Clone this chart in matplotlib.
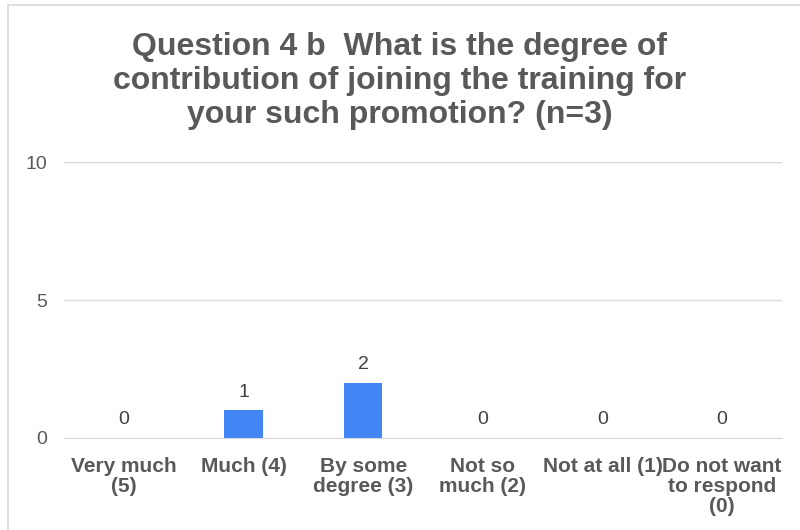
import matplotlib.pyplot as plt
from matplotlib.patches import Rectangle

categories = ['Very much\n(5)', 'Much (4)', 'By some\ndegree (3)', 'Not so\nmuch (2)',
              'Not at all (1)', 'Do not want\nto respond\n(0)']
counts = [0, 1, 2, 0, 0, 0]
yticks = [0, 5, 10]

plt.rcParams['font.family'] = ['Liberation Sans', 'DejaVu Sans']

fig = plt.figure(figsize=(8, 5.3), dpi=100)
ax = fig.add_axes([0.08, 0.1736, 0.8975, 0.5207])

x = range(len(categories))
bars = ax.bar(x, counts, width=0.32, color='#4285f4', zorder=3)

# value labels above each bar
for xi, v in zip(x, counts):
    ax.annotate(str(v), (xi, v), xytext=(0, 7), textcoords='offset points',
                ha='center', va='bottom', fontsize=14, color='#404040')

ax.set_xlim(-0.5, len(categories) - 0.5)
ax.set_ylim(0, 10)
ax.set_yticks(yticks)
ax.set_xticks(list(x))
ax.set_xticklabels(categories, fontsize=15, fontweight='bold', color='#595959',
                   linespacing=1.08)
ax.tick_params(axis='y', length=0, pad=12, labelsize=14, labelcolor='#595959')
ax.tick_params(axis='x', length=0, pad=13.5)
ax.grid(axis='y', color='#d9d9d9', linewidth=1, zorder=0)
for s in ['top', 'right', 'left']:
    ax.spines[s].set_visible(False)
ax.spines['bottom'].set_color('#d9d9d9')

fig.text(0.5, 0.847, 'Question 4 b  What is the degree of\ncontribution of joining the training for\nyour such promotion? (n=3)',
         ha='center', va='center', fontsize=23, fontweight='bold', color='#595959',
         linespacing=1.16)

# chart frame
fig.patches.append(Rectangle((8 / 800, -0.1), 1.2, 1.1 - 5 / 530, transform=fig.transFigure,
                             fill=False, edgecolor='#d9d9d9', linewidth=1.2))

fig.savefig('out.png', dpi=100)
